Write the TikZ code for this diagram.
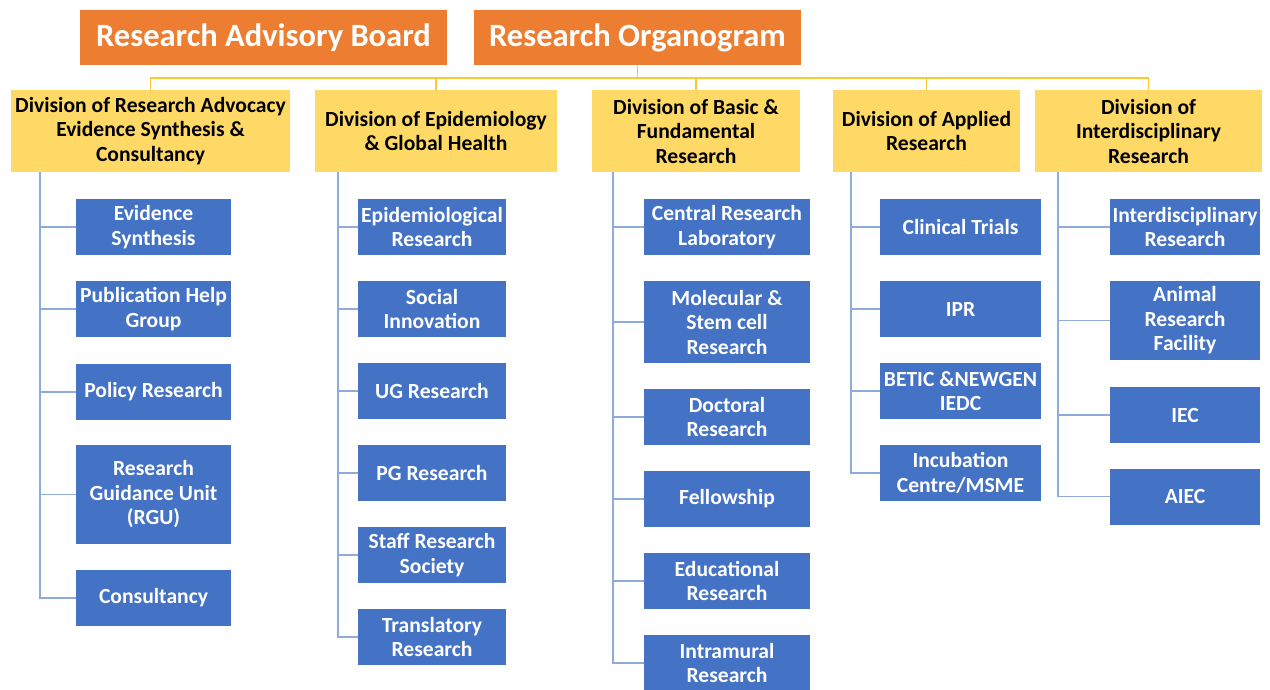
\documentclass[tikz,border=0pt]{standalone}
\usepackage{fontspec}
\setmainfont{Carlito}
\definecolor{orgorange}{HTML}{ED7D31}
\definecolor{divyellow}{HTML}{FFD966}
\definecolor{linkyellow}{HTML}{FFC62E}
\definecolor{unitblue}{HTML}{4472C4}
\definecolor{linkblue}{HTML}{8FAADC}
\begin{document}
\begin{tikzpicture}[x=1pt,y=-1pt,
  topbox/.style={fill=orgorange,text=white,font=\fontsize{32.5}{36}\selectfont\bfseries,inner sep=0pt,minimum height=55pt,align=center},
  divbox/.style={fill=divyellow,text=black,font=\fontsize{21.6}{24.5}\selectfont\bfseries,inner sep=0pt,minimum height=82pt,align=center},
  unit/.style={fill=unitblue,text=white,font=\fontsize{21.6}{24.5}\selectfont\bfseries,inner sep=0pt,minimum height=56pt,align=center},
  ylink/.style={draw=linkyellow,line width=1.6pt},
  blink/.style={draw=linkblue,line width=1.4pt}]
\useasboundingbox (0,0) rectangle (1270,689);
% top boxes
\node[topbox,minimum width=367pt] (rab) at (263.5,37.5) {Research Advisory Board};
\node[topbox,minimum width=327pt] (ro) at (637.5,37.5) {Research Organogram};
% divisions
\node[divbox,minimum width=279pt] (d1) at (150.5,131) {Division of Research Advocacy\\Evidence Synthesis \&\\Consultancy};
\node[divbox,minimum width=242pt] (d2) at (436,131) {Division of Epidemiology\\\& Global Health};
\node[divbox,minimum width=208pt] (d3) at (696,131) {Division of Basic \&\\Fundamental\\Research};
\node[divbox,minimum width=187pt] (d4) at (926.5,131) {Division of Applied\\Research};
\node[divbox,minimum width=227pt] (d5) at (1148.5,131) {Division of\\Interdisciplinary\\Research};
% yellow connectors
\coordinate (hub) at (637.5,78);
\draw[ylink] (ro.south) -- (hub);
\draw[ylink] (d1.north) |- (hub);
\draw[ylink] (d2.north) |- (hub);
\draw[ylink] (d3.north) |- (hub);
\draw[ylink] (d4.north) |- (hub);
\draw[ylink] (d5.north) |- (hub);
% column 1
\node[unit,minimum width=155pt] (a1) at (153.5,227) {Evidence\\Synthesis};
\node[unit,minimum width=155pt] (a2) at (153.5,309) {Publication Help\\Group};
\node[unit,minimum width=155pt] (a3) at (153.5,392) {Policy Research};
\node[unit,minimum width=155pt,minimum height=99pt] (a4) at (153.5,494.5) {Research\\Guidance Unit\\(RGU)};
\node[unit,minimum width=155pt] (a5) at (153.5,598) {Consultancy};
% column 2
\node[unit,minimum width=148pt] (b1) at (432,227) {Epidemiological\\Research};
\node[unit,minimum width=148pt] (b2) at (432,309) {Social\\Innovation};
\node[unit,minimum width=148pt] (b3) at (432,391) {UG Research};
\node[unit,minimum width=148pt] (b4) at (432,473) {PG Research};
\node[unit,minimum width=148pt] (b5) at (432,555) {Staff Research\\Society};
\node[unit,minimum width=148pt] (b6) at (432,637) {Translatory\\Research};
% column 3
\node[unit,minimum width=166pt] (c1) at (727,227) {Central Research\\Laboratory};
\node[unit,minimum width=166pt,minimum height=82pt] (c2) at (727,322) {Molecular \&\\Stem cell\\Research};
\node[unit,minimum width=166pt] (c3) at (727,417) {Doctoral\\Research};
\node[unit,minimum width=166pt] (c4) at (727,499) {Fellowship};
\node[unit,minimum width=166pt] (c5) at (727,581) {Educational\\Research};
\node[unit,minimum width=166pt] (c6) at (727,663) {Intramural\\Research};
% column 4
\node[unit,minimum width=161pt] (e1) at (960.5,227) {Clinical Trials};
\node[unit,minimum width=161pt] (e2) at (960.5,309) {IPR};
\node[unit,minimum width=161pt] (e3) at (960.5,391) {BETIC \&NEWGEN\\IEDC};
\node[unit,minimum width=161pt] (e4) at (960.5,473) {Incubation\\Centre/MSME};
% column 5
\node[unit,minimum width=150pt] (f1) at (1185,227) {Interdisciplinary\\Research};
\node[unit,minimum width=150pt,minimum height=79pt] (f2) at (1185,320.5) {Animal\\Research\\Facility};
\node[unit,minimum width=150pt] (f3) at (1185,415) {IEC};
\node[unit,minimum width=150pt] (f4) at (1185,496.5) {AIEC};
% blue tree connectors
\coordinate (v1) at (40,0);
\coordinate (v2) at (338,0);
\coordinate (v3) at (613,0);
\coordinate (v4) at (851,0);
\coordinate (v5) at (1058,0);
\draw[blink] (d1.south -| v1) -- (a5.west -| v1) -- (a5.west);
\foreach \n in {a1,a2,a3,a4} \draw[blink] (\n.west -| v1) -- (\n.west);
\draw[blink] (d2.south -| v2) -- (b6.west -| v2) -- (b6.west);
\foreach \n in {b1,b2,b3,b4,b5} \draw[blink] (\n.west -| v2) -- (\n.west);
\draw[blink] (d3.south -| v3) -- (c6.west -| v3) -- (c6.west);
\foreach \n in {c1,c2,c3,c4,c5} \draw[blink] (\n.west -| v3) -- (\n.west);
\draw[blink] (d4.south -| v4) -- (e4.west -| v4) -- (e4.west);
\foreach \n in {e1,e2,e3} \draw[blink] (\n.west -| v4) -- (\n.west);
\draw[blink] (d5.south -| v5) -- (f4.west -| v5) -- (f4.west);
\foreach \n in {f1,f2,f3} \draw[blink] (\n.west -| v5) -- (\n.west);
\end{tikzpicture}
\end{document}
